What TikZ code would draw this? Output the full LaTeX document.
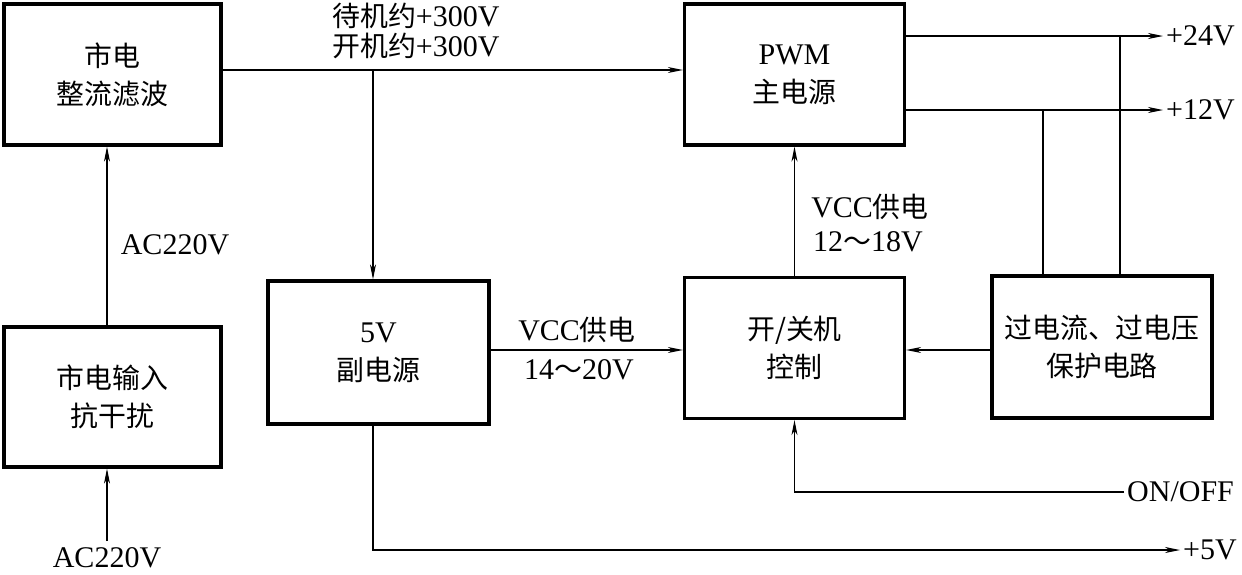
\documentclass[tikz,border=0pt]{standalone}
\usepackage{fontspec}
\setmainfont{Liberation Serif}
\newfontfamily\cjk[Scale=0.93]{Noto Sans CJK SC}
\usetikzlibrary{arrows.meta}
\newcommand{\zh}[1]{{\cjk #1}}
\begin{document}
\begin{tikzpicture}[x=1pt,y=-1pt,
  blk/.style={draw, line width=3.3pt, align=center, inner sep=0pt,
    font=\fontsize{30}{38}\selectfont},
  con/.style={line width=1.1pt, -{Stealth[length=15pt,width=6pt,inset=4.5pt]}},
  ln/.style={line width=1.1pt},
  lbl/.style={font=\fontsize{30}{34}\selectfont, inner sep=0pt, align=center},
  rlbl/.style={font=\fontsize{30}{34}\selectfont, inner sep=3pt, anchor=west}]
\useasboundingbox (0,0) rectangle (1242,574);

% blocks
\node[blk, minimum width=217pt, minimum height=141pt] (rect) at (112.5,74.5) {\zh{市电}\\\zh{整流滤波}};
\node[blk, minimum width=217pt, minimum height=140pt] (inp) at (112.5,397) {\zh{市电输入}\\\zh{抗干扰}};
\node[blk, minimum width=221pt, minimum height=143pt] (sub) at (378.5,352.5) {5V\\\zh{副电源}};
\node[blk, minimum width=220pt, minimum height=141pt] (pwm) at (794.5,74.5) {PWM\\\zh{主电源}};
\node[blk, minimum width=220pt, minimum height=141pt] (ctl) at (794.5,348) {\zh{开/关机}\\\zh{控制}};
\node[blk, minimum width=220pt, minimum height=142pt] (prot) at (1102,347) {\zh{过电流、过电压}\\\zh{保护电路}};

% labels
\node[lbl, anchor=west] (t1) at (332,16) {\zh{待机约}+300V};
\node[lbl, anchor=west] (t2) at (332,46) {\zh{开机约}+300V};
\node[lbl] (ac1) at (175,245) {AC220V};
\node[lbl] (ac2) at (107,558) {AC220V};
\node[lbl] (v1) at (577,330) {VCC\zh{供电}};
\node[lbl] (v2) at (579,370) {14\zh{～}20V};
\node[lbl] (v3) at (870,207) {VCC\zh{供电}};
\node[lbl] (v4) at (868,242) {12\zh{～}18V};
\node[rlbl] (l24) at (1163,36) {+24V};
\node[rlbl] (l12) at (1163,110) {+12V};
\node[rlbl] (onoff) at (1124,492) {ON/OFF};
\node[rlbl] (l5) at (1180,550) {+5V};

% junction coordinates
\coordinate (acbot) at (107,541);
\coordinate (jm) at (373,70);
\coordinate (j24) at (1120,36);
\coordinate (j12) at (1043,110);

% connectors
\draw[con] (acbot) -- (acbot |- inp.south);
\draw[con] (inp.north -| acbot) -- (rect.south -| acbot);
\draw[con] (rect.east |- jm) -- (pwm.west |- jm);
\draw[con] (jm) -- (sub.north -| jm);
\draw[con] (sub.east |- 0,350) -- (ctl.west |- 0,350);
\draw[con] (prot.west |- 0,350) -- (ctl.east |- 0,350);
\draw[con] (ctl.north) -- (pwm.south);
\draw[con] (pwm.east |- l24) -- (l24.west);
\draw[con] (pwm.east |- l12) -- (l12.west);
\draw[ln] (prot.north -| j24) -- (j24);
\draw[ln] (prot.north -| j12) -- (j12);
\draw[con] (onoff.west) -| (ctl.south);
\draw[con] (sub.south -| jm) |- (l5.west);
\end{tikzpicture}
\end{document}
